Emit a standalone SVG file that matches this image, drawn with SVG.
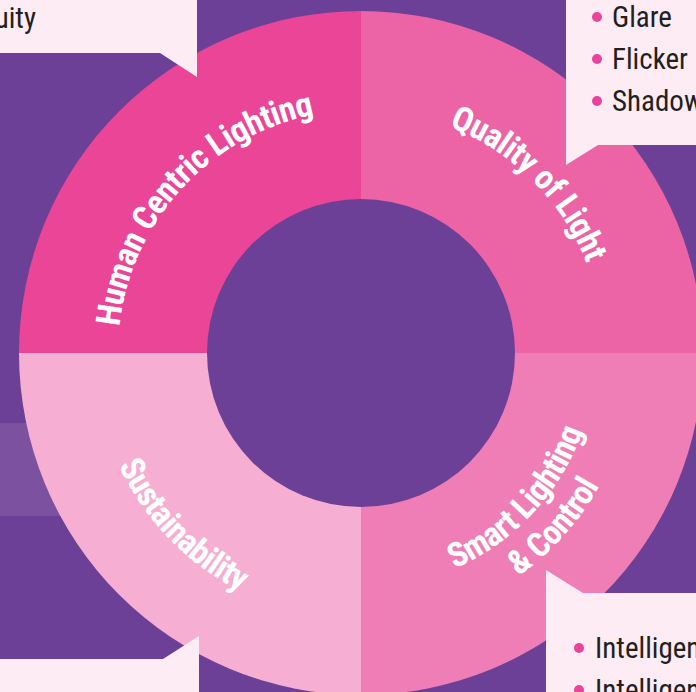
<svg xmlns="http://www.w3.org/2000/svg" width="696" height="692" viewBox="0 0 696 692">
  <defs>
    <style>
      .lbl { font-family: "Liberation Sans Narrow", "Arial Narrow", "Roboto Condensed", "Liberation Sans", sans-serif; font-weight: bold; font-size: 34px; letter-spacing: -0.6px; fill: #ffffff; }
      .note { font-family: "Liberation Sans Narrow", "Arial Narrow", "Roboto Condensed", "Liberation Sans", sans-serif; font-size: 29px; fill: #231f20; }
      .bubble { fill: #fdecf4; }
      .dot { fill: #e9449a; }
    </style>
    <path id="arcHCL" d="M129.2,426.1 A243,243 0 0 1 413.6,115.8"/>
    <path id="arcQoL" d="M292,120 A243,243 0 0 1 597.3,409.7"/>
    <path id="arcSus" d="M104.3,279.4 A267,267 0 0 0 425.6,612.1"/>
    <path id="arcSm1" d="M308.1,582 A235,235 0 0 0 585.7,284.3"/>
    <path id="arcSm2" d="M304,621 A275,275 0 0 0 621.6,268.3"/>
  </defs>

  <g id="background">
    <rect x="0" y="0" width="696" height="692" fill="#6b4096"/>
    <rect x="0" y="423" width="361" height="93" fill="#7b51a0"/>
  </g>

  <g id="human-centric-lighting">
    <path d="M361,353 L19,353 A342,342 0 0 1 361,11 Z" fill="#ea4597"/>
  </g>
  <g id="quality-of-light">
    <path d="M361,353 L361,11 A342,342 0 0 1 703,353 Z" fill="#ec63a6"/>
  </g>
  <g id="smart-lighting-control">
    <path d="M361,353 L703,353 A342,342 0 0 1 361,695 Z" fill="#ef7eb6"/>
  </g>
  <g id="sustainability">
    <path d="M361,353 L361,695 A342,342 0 0 1 19,353 Z" fill="#f6afd3"/>
  </g>
  <g id="hub">
    <circle cx="361" cy="353" r="154" fill="#6b4096"/>
  </g>

  <g id="labels">
    <text class="lbl" text-anchor="middle"><textPath href="#arcHCL" startOffset="50%">Human Centric Lighting</textPath></text>
    <text class="lbl" text-anchor="middle"><textPath href="#arcQoL" startOffset="51%">Quality of Light</textPath></text>
    <text class="lbl" text-anchor="middle"><textPath href="#arcSus" startOffset="50%">Sustainability</textPath></text>
    <text class="lbl" text-anchor="middle"><textPath href="#arcSm1" startOffset="50%">Smart Lighting</textPath></text>
    <text class="lbl" text-anchor="middle"><textPath href="#arcSm2" startOffset="50%">&amp; Control</textPath></text>
  </g>

  <g id="callout-top-left">
    <polygon class="bubble" points="0,0 197,0 197,77 160,53 0,53"/>
    <text class="note" x="36" y="28" text-anchor="end">uity</text>
  </g>

  <g id="callout-top-right">
    <polygon class="bubble" points="566,0 696,0 696,145 598,145 566,165"/>
    <circle class="dot" cx="597" cy="17" r="5"/>
    <text class="note" x="612" y="27">Glare</text>
    <circle class="dot" cx="597" cy="59" r="5"/>
    <text class="note" x="612" y="69">Flicker</text>
    <circle class="dot" cx="597" cy="101" r="5"/>
    <text class="note" x="612" y="111">Shadow</text>
  </g>

  <g id="callout-bottom-right">
    <polygon class="bubble" points="546,570 583,593 696,593 696,692 546,692"/>
    <circle class="dot" cx="579" cy="648" r="5"/>
    <text class="note" x="595" y="658">Intelligent</text>
    <circle class="dot" cx="579" cy="690" r="5"/>
    <text class="note" x="595" y="700">Intelligent</text>
  </g>

  <g id="callout-bottom-left">
    <polygon class="bubble" points="0,659 163,659 199,636 199,692 0,692"/>
  </g>
</svg>
